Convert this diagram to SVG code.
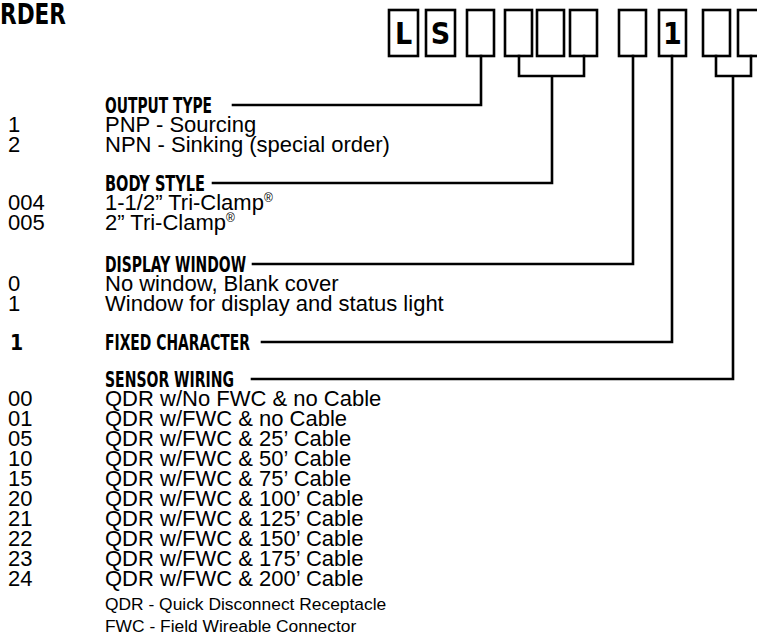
<svg xmlns="http://www.w3.org/2000/svg" width="757" height="635" viewBox="0 0 757 635">
<style>
.bx{fill:#fff;stroke:#000;stroke-width:2.6}
.ln{fill:none;stroke:#000;stroke-width:2.6;stroke-linecap:square}
.hd{font-family:"Liberation Sans Narrow","DejaVu Sans Condensed",sans-serif;font-weight:bold;font-size:21px;fill:#000}
.bl{font-family:"Liberation Sans Narrow","DejaVu Sans Condensed",sans-serif;font-weight:bold;font-size:30px;fill:#000;text-anchor:middle}
.tx{font-family:"Liberation Sans",Arial,sans-serif;font-size:22px;fill:#000}
.fn{font-family:"Liberation Sans",Arial,sans-serif;font-size:17.4px;fill:#000}
.sup{font-size:12px}
</style>
<rect width="757" height="635" fill="#fff"/>
<g id="title"><text x="0" y="24" class="hd" style="font-size:29px" textLength="66" lengthAdjust="spacingAndGlyphs">RDER</text></g>
<g id="code-boxes">
<g id="box-L"><rect class="bx" x="389" y="10" width="29" height="46"/><text class="bl" x="403.5" y="44">L</text></g>
<g id="box-S"><rect class="bx" x="426" y="10" width="29" height="46"/><text class="bl" x="440.5" y="44">S</text></g>
<g id="box-1"><rect class="bx" x="467" y="10" width="27" height="46"/></g>
<g id="box-2"><rect class="bx" x="505" y="10" width="27" height="46"/></g>
<g id="box-3"><rect class="bx" x="537" y="10" width="27" height="46"/></g>
<g id="box-4"><rect class="bx" x="570" y="10" width="27" height="46"/></g>
<g id="box-5"><rect class="bx" x="619" y="10" width="27" height="46"/></g>
<g id="box-fixed"><rect class="bx" x="659" y="10" width="27" height="46"/><text class="bl" x="672.5" y="44">1</text></g>
<g id="box-6"><rect class="bx" x="703" y="10" width="27" height="46"/></g>
<g id="box-7"><rect class="bx" x="738" y="10" width="27" height="46"/></g>
</g>
<g id="connectors">
<path class="ln" d="M481 56V105H233"/>
<path class="ln" d="M519 56V76H584V56M552 76V183H213"/>
<path class="ln" d="M633 56V264H253"/>
<path class="ln" d="M672 56V342H262"/>
<path class="ln" d="M716 56V76H751V56M733 76V379H252"/>
</g>
<g id="output-type">
<text class="hd" x="105" y="113" textLength="107" lengthAdjust="spacingAndGlyphs">OUTPUT TYPE</text>
<text class="tx" x="8" y="132">1</text><text class="tx" x="105" y="132">PNP - Sourcing</text>
<text class="tx" x="8" y="152">2</text><text class="tx" x="105" y="152">NPN - Sinking (special order)</text>
</g>
<g id="body-style">
<text class="hd" x="105" y="191" textLength="100" lengthAdjust="spacingAndGlyphs">BODY STYLE</text>
<text class="tx" x="8" y="210">004</text><text class="tx" x="105" y="210">1-1/2” Tri-Clamp<tspan class="sup" dy="-8">®</tspan></text>
<text class="tx" x="8" y="230">005</text><text class="tx" x="105" y="230">2” Tri-Clamp<tspan class="sup" dy="-8">®</tspan></text>
</g>
<g id="display-window">
<text class="hd" x="105" y="272" textLength="141" lengthAdjust="spacingAndGlyphs">DISPLAY WINDOW</text>
<text class="tx" x="8" y="291">0</text><text class="tx" x="105" y="291">No window, Blank cover</text>
<text class="tx" x="8" y="311">1</text><text class="tx" x="105" y="311">Window for display and status light</text>
</g>
<g id="fixed-character">
<text class="hd" x="10" y="350">1</text>
<text class="hd" x="105" y="350" textLength="145" lengthAdjust="spacingAndGlyphs">FIXED CHARACTER</text>
</g>
<g id="sensor-wiring">
<text class="hd" x="105" y="387" textLength="129" lengthAdjust="spacingAndGlyphs">SENSOR WIRING</text>
<text class="tx" x="8" y="406">00</text><text class="tx" x="105" y="406">QDR w/No FWC &amp; no Cable</text>
<text class="tx" x="8" y="426">01</text><text class="tx" x="105" y="426">QDR w/FWC &amp; no Cable</text>
<text class="tx" x="8" y="446">05</text><text class="tx" x="105" y="446">QDR w/FWC &amp; 25’ Cable</text>
<text class="tx" x="8" y="466">10</text><text class="tx" x="105" y="466">QDR w/FWC &amp; 50’ Cable</text>
<text class="tx" x="8" y="486">15</text><text class="tx" x="105" y="486">QDR w/FWC &amp; 75’ Cable</text>
<text class="tx" x="8" y="506">20</text><text class="tx" x="105" y="506">QDR w/FWC &amp; 100’ Cable</text>
<text class="tx" x="8" y="526">21</text><text class="tx" x="105" y="526">QDR w/FWC &amp; 125’ Cable</text>
<text class="tx" x="8" y="546">22</text><text class="tx" x="105" y="546">QDR w/FWC &amp; 150’ Cable</text>
<text class="tx" x="8" y="566">23</text><text class="tx" x="105" y="566">QDR w/FWC &amp; 175’ Cable</text>
<text class="tx" x="8" y="586">24</text><text class="tx" x="105" y="586">QDR w/FWC &amp; 200’ Cable</text>
<text class="fn" x="105" y="610">QDR - Quick Disconnect Receptacle</text>
<text class="fn" x="105" y="632">FWC - Field Wireable Connector</text>
</g>
</svg>
